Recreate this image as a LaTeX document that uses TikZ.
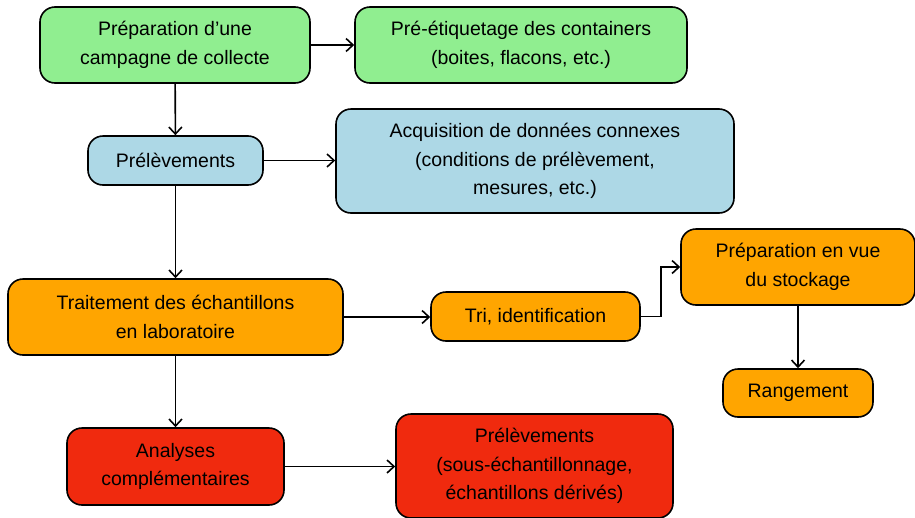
\documentclass[tikz,border=0pt]{standalone}
\usepackage{fontspec}
\setmainfont{Liberation Sans}
\usetikzlibrary{arrows.meta}
\definecolor{bgreen}{HTML}{90EE90}
\definecolor{bblue}{HTML}{ADD8E6}
\definecolor{borange}{HTML}{FFA500}
\definecolor{bred}{HTML}{F02A0E}
\tikzset{
  box/.style={draw=black, line width=1.6pt, rounded corners=15pt, align=center,
    inner sep=0pt, font=\fontsize{19.5}{28.5}\selectfont},
  arr/.style={draw=black, line width=1.6pt, -{Straight Barb[length=7pt,width=13pt]}},
}
\begin{document}
\begin{tikzpicture}[x=1pt,y=-1pt]
\useasboundingbox[fill=white] (0,0) rectangle (915,517);
\node[box, fill=bgreen, minimum width=270pt, minimum height=76pt] (prep) at (175,45) {Préparation d’une\\campagne de collecte};
\node[box, fill=bgreen, minimum width=332pt, minimum height=76pt] (etiq) at (521,45) {Pré-étiquetage des containers\\(boites, flacons, etc.)};
\node[box, fill=bblue, minimum width=175pt, minimum height=49pt] (prel) at (175.5,160.5) {Prélèvements};
\node[box, fill=bblue, minimum width=398pt, minimum height=104pt] (acq) at (535,161) {Acquisition de données connexes\\(conditions de prélèvement,\\mesures, etc.)};
\node[box, fill=borange, minimum width=335pt, minimum height=76pt] (trait) at (175.5,317) {Traitement des échantillons\\en laboratoire};
\node[box, fill=borange, minimum width=209pt, minimum height=49pt] (tri) at (535.5,316.5) {Tri, identification};
\node[box, fill=borange, minimum width=234pt, minimum height=76pt] (stock) at (798,267) {Préparation en vue\\du stockage};
\node[box, fill=borange, minimum width=150pt, minimum height=48pt] (rang) at (798,393) {Rangement};
\node[box, fill=bred, minimum width=217pt, minimum height=77pt] (ana) at (175.5,466.5) {Analyses\\complémentaires};
\node[box, fill=bred, minimum width=277pt, minimum height=104pt] (prel2) at (534.5,466) {Prélèvements\\(sous-échantillonnage,\\échantillons dérivés)};
\draw[arr] (prep) -- (etiq);
\draw[arr] (prep) -- (prel);
\draw[arr] (prel.east) -- (prel.east -| acq.west);
\draw[arr] (prel) -- (trait);
\draw[arr] (trait.east) -- (trait.east -| tri.west);
\draw[arr] (tri.east) -- ++(20,0) |- (stock.west);
\draw[arr] (stock) -- (rang);
\draw[arr] (trait) -- (ana);
\draw[arr] (ana.east) -- (ana.east -| prel2.west);
\end{tikzpicture}
\end{document}
